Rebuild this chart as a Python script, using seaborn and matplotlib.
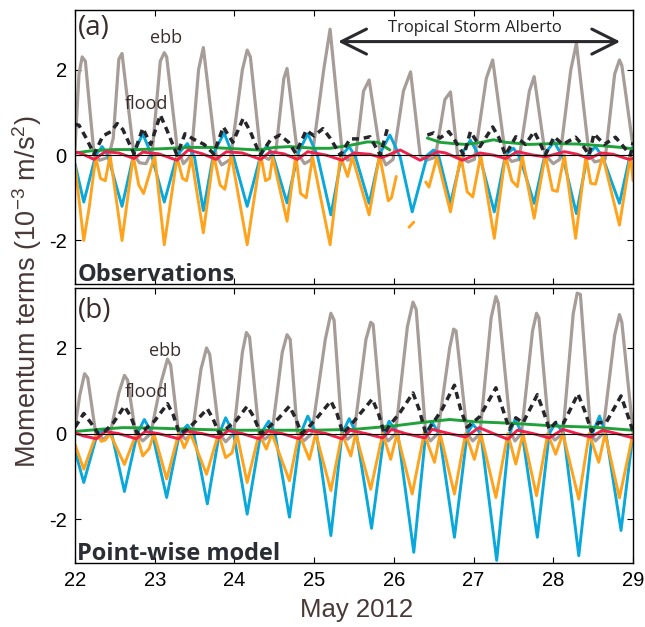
import numpy as np
import pandas as pd
import matplotlib
matplotlib.use("Agg")
import matplotlib.pyplot as plt
import seaborn as sns

nan = np.nan

# ---------------- Panel (a): Observations ----------------
A_GRAY_T = [22.00, 22.05, 22.09, 22.13, 22.24, 22.31, 22.42, 22.48, 22.55, 22.59, 22.74, 22.81, 22.89, 22.97,
            23.07, 23.12, 23.15, 23.28, 23.36, 23.46, 23.55, 23.61, 23.77, 23.84, 23.95, 24.10, 24.16, 24.20,
            24.33, 24.43, 24.52, 24.62, 24.66, 24.79, 24.88, 24.97, 25.12, 25.20, 25.35, 25.42, 25.52, 25.62,
            25.69, 25.83, 25.90, 25.99, 26.12, 26.21, 26.33, 26.41, 26.52, 26.64, 26.71, 26.80, 26.93, 27.01,
            27.16, 27.24, 27.40, 27.48, 27.57, 27.70, 27.76, 27.90, 28.00, 28.08, 28.22, 28.29, 28.45, 28.52,
            28.65, 28.77, 28.83, 28.86, 29.00]
A_GRAY_V = [0.15, 1.90, 2.30, 2.20, 0.00, -0.12, -0.05, 0.40, 2.25, 2.38, 0.00, -0.18, -0.20, 0.10,
            2.20, 2.40, 2.30, 0.20, -0.20, 0.00, 2.00, 2.52, 0.00, -0.23, -0.10, 2.00, 2.46, 2.30,
            0.00, -0.10, 0.10, 1.80, 2.03, 0.05, -0.20, -0.10, 2.00, 2.95, 0.10, -0.12, -0.05, 1.50,
            1.76, 0.05, -0.23, -0.10, 1.50, 1.95, 0.00, -0.12, -0.05, 1.30, 1.48, 0.00, -0.16, -0.10,
            1.80, 2.23, 0.00, -0.15, -0.10, 1.50, 1.84, 0.00, -0.20, -0.10, 2.00, 2.62, 0.00, -0.16,
            -0.10, 1.90, 2.23, 2.10, 0.20]

A_ORANGE_T = [22.00, 22.11, 22.18, 22.26, 22.32, 22.38, 22.44, 22.59, 22.73, 22.80, 22.86, 22.94, 23.00,
              23.12, 23.28, 23.35, 23.40, 23.46, 23.61, 23.74, 23.82, 23.88, 23.96, 24.16, 24.33, 24.39,
              24.44, 24.48, 24.66, 24.77, 24.83, 24.90, 24.98, 25.20, 25.33, 25.42, 25.48, 25.69, 25.82,
              25.93, 25.97, 26.03, nan, 26.19, 26.25, nan, 26.40, 26.44, 26.54, 26.71, 26.84, 26.92, 26.99,
              27.09, 27.26, 27.40, 27.48, 27.55, 27.61, 27.76, 27.90, 27.99, 28.05, 28.14, 28.28, 28.41,
              28.47, 28.53, 28.62, 28.83, 28.97, 29.00]
A_ORANGE_V = [-0.23, -2.00, -1.20, -0.05, -0.55, -0.60, 0.00, -2.00, -0.02, -0.70, -0.90, -0.40, -0.02,
              -2.10, -0.05, -0.55, -0.60, -0.05, -1.82, 0.00, -0.70, -0.80, 0.00, -2.10, 0.00, -0.60,
              -0.55, -0.05, -1.55, 0.00, -0.90, -1.00, -0.05, -2.10, -0.02, -0.50, -0.05, -1.40, 0.00,
              -1.07, -1.00, -0.50, nan, -1.69, -1.57, nan, -0.63, -0.75, -0.05, -1.33, -0.02, -0.86, -0.98,
              0.00, -1.95, 0.00, -0.60, -0.74, -0.02, -1.48, 0.00, -0.82, -0.85, 0.00, -1.95, -0.02,
              -0.66, -0.68, -0.02, -1.64, 0.00, -0.60]

A_BLUE_T = [22.00, 22.11, 22.26, 22.34, 22.41, 22.59, 22.74, 22.85, 22.96, 23.12, 23.28, 23.41, 23.50,
            23.61, 23.74, 23.87, 23.99, 24.16, 24.33, 24.41, 24.49, 24.66, 24.80, 24.92, 25.04, 25.21,
            25.35, 25.44, 25.52, 25.69, 25.83, 25.95, 26.08, 26.23, 26.42, 26.50, 26.56, 26.71, 26.86,
            26.96, 27.08, 27.26, 27.40, 27.50, 27.58, 27.76, 27.90, 28.01, 28.12, 28.29, 28.43, 28.53,
            28.62, 28.83, 28.97, 29.00]
A_BLUE_V = [-0.20, -1.10, 0.00, 0.20, 0.00, -1.20, 0.05, 0.50, 0.00, -1.10, 0.00, 0.27, -0.05,
            -1.30, 0.05, 0.52, -0.05, -1.20, 0.00, 0.23, -0.05, -1.12, 0.05, 0.50, 0.00, -1.40,
            0.00, 0.20, -0.05, -1.13, 0.05, 0.47, -0.05, -1.33, 0.00, 0.12, 0.00, -1.13, 0.05,
            0.35, -0.05, -1.33, 0.00, 0.16, -0.05, -1.13, 0.05, 0.31, -0.05, -1.37, 0.00, 0.20,
            -0.05, -1.13, 0.05, 0.19]

A_DASH_T = [22.00, 22.05, 22.14, 22.24, 22.35, 22.45, 22.53, 22.60, 22.74, 22.85, 22.95, 23.07, 23.15,
            23.28, 23.38, 23.48, 23.62, 23.74, 23.86, 23.98, 24.11, 24.20, 24.32, 24.45, 24.57, 24.68,
            24.77, 24.90, 25.00, 25.11, 25.20, 25.33, 25.45, 25.58, 25.70, 25.83, 25.93, nan,
            26.42, 26.50, 26.58, 26.69, 26.78, 26.88, 26.96, 27.08, 27.24, 27.32, 27.40, 27.53, 27.65,
            27.76, 27.83, 27.90, 28.01, 28.12, 28.28, 28.36, 28.45, 28.51, 28.64, 28.78, 28.88, 28.97,
            29.00]
A_DASH_V = [0.72, 0.70, 0.40, 0.02, 0.45, 0.55, 0.74, 0.60, 0.03, 0.63, 0.25, 0.94, 0.60,
            0.00, 0.50, 0.38, 0.25, 0.03, 0.66, 0.30, 0.86, 0.55, 0.00, 0.35, 0.47, 0.30,
            0.04, 0.58, 0.45, 0.62, 0.40, 0.00, 0.38, 0.38, 0.43, 0.00, 0.70, nan,
            0.47, 0.52, 0.40, 0.55, 0.30, 0.00, 0.55, 0.20, 0.66, 0.40, 0.00, 0.43, 0.25,
            0.55, 0.30, 0.00, 0.43, 0.25, 0.42, 0.25, 0.00, 0.50, 0.25, 0.42, 0.20, 0.00,
            0.30]

A_GREEN_T = [22.00, 22.20, 22.50, 22.80, 23.10, 23.40, 23.70, 24.00, 24.30, 24.50, 24.70, 25.00, 25.20,
             25.45, 25.67, 25.80, 25.95, nan, 26.42, 26.58, 26.75, 26.90, 27.10, 27.25, 27.40, 27.70,
             28.00, 28.30, 28.60, 28.85, 29.00]
A_GREEN_V = [0.05, 0.10, 0.13, 0.13, 0.15, 0.18, 0.18, 0.15, 0.12, 0.18, 0.20, 0.16, 0.16,
             0.23, 0.31, 0.30, 0.12, nan, 0.40, 0.30, 0.27, 0.25, 0.30, 0.36, 0.30, 0.25,
             0.27, 0.26, 0.22, 0.18, 0.15]

A_RED_T = [22.00, 22.10, 22.24, 22.38, 22.55, 22.74, 22.85, 23.05, 23.28, 23.42, 23.60, 23.77, 23.90,
           24.10, 24.33, 24.45, 24.62, 24.79, 24.92, 25.15, 25.35, 25.50, 25.70, 25.85, 26.08, 26.33,
           26.55, 26.65, 26.86, 27.08, 27.25, 27.40, 27.55, 27.75, 27.90, 28.14, 28.30, 28.45, 28.60,
           28.75, 28.95, 29.00]
A_RED_V = [0.08, 0.02, -0.10, 0.08, 0.05, -0.08, 0.07, 0.03, -0.12, 0.12, 0.03, -0.10, 0.08,
           0.05, -0.10, 0.08, 0.03, -0.10, 0.08, 0.00, -0.12, 0.05, 0.02, -0.06, 0.12, -0.12,
           0.08, 0.05, -0.12, 0.05, 0.00, -0.08, 0.08, 0.00, -0.04, 0.08, 0.02, -0.08, 0.05,
           0.02, -0.10, -0.08]

# ---------------- Panel (b): Point-wise model ----------------
B_GRAY_T = [22.00, 22.06, 22.12, 22.16, 22.26, 22.36, 22.44, 22.55, 22.62, 22.66, 22.76, 22.85, 22.95,
            23.08, 23.16, 23.20, 23.30, 23.39, 23.47, 23.58, 23.65, 23.69, 23.81, 23.89, 23.99, 24.10,
            24.15, 24.19, 24.31, 24.38, 24.47, 24.60, 24.66, 24.70, 24.79, 24.87, 24.97, 25.14, 25.21,
            25.25, 25.35, 25.42, 25.50, 25.65, 25.71, 25.74, 25.86, 25.93, 26.02, 26.17, 26.24, 26.28,
            26.40, 26.46, 26.55, 26.70, 26.75, 26.78, 26.92, 26.99, 27.08, 27.22, 27.28, 27.31, 27.47,
            27.52, 27.60, 27.74, 27.79, 27.82, 27.95, 28.02, 28.12, 28.25, 28.30, 28.34, 28.47, 28.53,
            28.62, 28.77, 28.83, 28.86, 29.00]
B_GRAY_V = [0.14, 0.90, 1.40, 1.30, 0.00, -0.13, 0.00, 0.95, 1.36, 1.25, 0.00, -0.17, 0.00,
            1.20, 1.74, 1.60, 0.00, -0.13, 0.00, 1.50, 2.00, 1.85, 0.00, -0.19, 0.00, 1.90,
            2.36, 2.25, 0.00, -0.13, 0.00, 1.90, 2.31, 2.20, 0.00, -0.17, 0.00, 2.20, 2.81,
            2.65, 0.00, -0.13, 0.00, 2.20, 2.60, 2.55, 0.00, -0.17, 0.00, 2.50, 3.07, 2.90,
            0.00, -0.17, 0.00, 2.00, 2.44, 2.40, 0.00, -0.17, 0.00, 2.70, 3.20, 3.05, 0.00,
            -0.17, 0.00, 2.40, 2.81, 2.70, 0.00, -0.15, 0.00, 2.80, 3.28, 3.25, 0.00, -0.17,
            0.00, 2.30, 2.78, 2.60, 0.05]

B_BLUE_T = [22.00, 22.11, 22.28, 22.38, 22.46, 22.62, 22.78, 22.87, 22.97, 23.15, 23.31, 23.41, 23.49,
            23.66, 23.81, 23.89, 23.99, 24.16, 24.33, 24.43, 24.51, 24.69, 24.83, 24.92, 25.03, 25.21,
            25.35, 25.44, 25.53, 25.72, 25.88, 25.94, 26.05, 26.25, 26.40, 26.48, 26.57, 26.76, 26.92,
            26.99, 27.09, 27.29, 27.45, 27.52, 27.61, 27.80, 27.95, 28.03, 28.13, 28.32, 28.49, 28.58,
            28.66, 28.85, 29.00]
B_BLUE_V = [-0.40, -1.14, 0.00, 0.10, 0.00, -1.35, 0.00, 0.33, 0.00, -1.49, 0.00, 0.20, 0.00,
            -1.64, 0.00, 0.37, 0.00, -1.88, 0.00, 0.29, 0.00, -1.95, 0.00, 0.41, 0.00, -2.38,
            0.00, 0.35, 0.00, -2.21, 0.00, 0.29, 0.00, -2.77, 0.00, 0.26, 0.00, -2.42, 0.00,
            0.22, 0.00, -2.96, 0.00, 0.33, 0.00, -2.42, 0.00, 0.26, 0.00, -2.85, 0.00, 0.41,
            0.00, -2.26, 0.00]

B_ORANGE_T = [22.00, 22.11, 22.27, 22.33, 22.38, 22.44, 22.62, 22.77, 22.85, 22.93, 22.99, 23.15, 23.30,
              23.37, 23.45, 23.65, 23.80, 23.89, 23.97, 24.03, 24.16, 24.31, 24.40, 24.47, 24.69, 24.81,
              24.94, 25.02, 25.21, 25.35, 25.46, 25.52, 25.71, 25.86, 25.96, 26.04, 26.23, 26.38, 26.51,
              26.58, 26.76, 26.90, 27.01, 27.09, 27.28, 27.43, 27.53, 27.62, 27.79, 27.93, 28.03, 28.12,
              28.32, 28.45, 28.57, 28.65, 28.83, 29.00]
B_ORANGE_V = [-0.25, -0.83, 0.00, -0.18, -0.15, 0.00, -0.72, 0.00, -0.52, -0.35, 0.00, -1.06, 0.00,
              -0.33, 0.00, -0.95, 0.00, -0.56, -0.45, 0.00, -1.14, 0.00, -0.36, 0.00, -1.10, 0.00,
              -0.60, 0.00, -1.33, 0.00, -0.52, 0.00, -1.30, 0.00, -0.60, 0.00, -1.41, 0.00, -0.67,
              0.00, -1.41, 0.00, -0.60, 0.00, -1.49, 0.00, -0.71, 0.00, -1.45, 0.00, -0.48, 0.00,
              -1.53, 0.00, -0.67, 0.00, -1.50, 0.00]

B_DASH_T = [22.00, 22.11, 22.20, 22.29, 22.38, 22.48, 22.62, 22.70, 22.78, 22.88, 23.00, 23.16, 23.23,
            23.31, 23.41, 23.52, 23.66, 23.73, 23.81, 23.90, 24.02, 24.16, 24.24, 24.33, 24.43, 24.55,
            24.69, 24.77, 24.84, 24.93, 25.05, 25.21, 25.29, 25.36, 25.45, 25.57, 25.73, 25.81, 25.88,
            25.95, 26.08, 26.24, 26.32, 26.40, 26.48, 26.60, 26.76, 26.84, 26.92, 26.99, 27.08, 27.28,
            27.37, 27.45, 27.53, 27.62, 27.80, 27.88, 27.95, 28.03, 28.13, 28.31, 28.40, 28.48, 28.57,
            28.66, 28.85, 28.93, 29.00]
B_DASH_V = [0.15, 0.47, 0.25, 0.00, 0.06, 0.25, 0.64, 0.40, 0.00, 0.10, 0.30, 0.70, 0.45,
            0.00, 0.10, 0.30, 0.58, 0.35, 0.00, 0.12, 0.30, 0.64, 0.40, 0.00, 0.15, 0.35,
            0.64, 0.35, 0.00, 0.15, 0.40, 0.76, 0.45, 0.00, 0.18, 0.45, 0.81, 0.45, 0.00,
            0.20, 0.50, 0.95, 0.55, 0.00, 0.22, 0.55, 1.13, 0.55, 0.15, 0.26, 0.40, 1.07,
            0.55, 0.10, 0.37, 0.25, 0.91, 0.50, 0.10, 0.26, 0.25, 0.93, 0.50, 0.05, 0.26,
            0.25, 0.88, 0.45, 0.05]

B_GREEN_T = [22.00, 22.30, 22.60, 23.00, 23.50, 24.00, 24.50, 25.00, 25.50, 26.00, 26.30, 26.70, 27.00,
             27.50, 28.00, 28.50, 29.00]
B_GREEN_V = [0.05, 0.10, 0.14, 0.13, 0.10, 0.08, 0.08, 0.08, 0.10, 0.18, 0.25, 0.33, 0.28,
             0.24, 0.18, 0.15, 0.08]

B_RED_T = [22.00, 22.10, 22.27, 22.38, 22.55, 22.77, 22.88, 23.05, 23.30, 23.40, 23.60, 23.81, 23.92,
           24.10, 24.31, 24.42, 24.60, 24.81, 24.93, 25.15, 25.35, 25.45, 25.65, 25.86, 25.97, 26.15,
           26.39, 26.48, 26.70, 26.90, 27.07, 27.25, 27.43, 27.55, 27.75, 27.95, 28.12, 28.30, 28.47,
           28.62, 28.80, 29.00]
B_RED_V = [0.02, -0.05, -0.12, 0.05, 0.00, -0.12, 0.05, 0.00, -0.12, 0.06, 0.00, -0.10, 0.07,
           0.00, -0.12, 0.06, 0.00, -0.12, 0.08, 0.00, -0.12, 0.08, 0.00, -0.10, 0.10, 0.00,
           -0.10, 0.10, 0.00, -0.08, 0.14, 0.00, -0.13, 0.08, 0.00, -0.10, 0.10, 0.00, -0.08,
           0.08, 0.00, -0.10]

X_TICKS = [22, 23, 24, 25, 26, 27, 28, 29]
Y_TICKS = [-2, 0, 2]

# ---------------- styling ----------------
C_GRAY = "#a69c98"
C_BLUE = "#08a8dc"
C_ORANGE = "#ffa21c"
C_GREEN = "#1fa23a"
C_RED = "#f0214c"
C_DASH = "#26262a"
C_TEXT = "#3a2c2c"

sns.set_style("ticks")
plt.rcParams["font.family"] = ["Liberation Sans", "DejaVu Sans"]
plt.rcParams["mathtext.fontset"] = "custom"
plt.rcParams["mathtext.rm"] = "Liberation Sans"


def frame(t, v):
    t = np.asarray(t, float)
    v = np.asarray(v, float)
    seg = np.cumsum(np.isnan(v))
    df = pd.DataFrame({"t": t, "v": v, "seg": seg})
    return df.dropna()


fig = plt.figure(figsize=(6.45, 6.27), dpi=100)
W, H = 645.0, 627.0
ax_a = fig.add_axes([75 / W, 1 - 284 / H, 558 / W, 274 / H])
ax_b = fig.add_axes([75 / W, 1 - 563 / H, 558 / W, 275 / H])

DASH = (0, (2.0, 1.4))
panels = {
    ax_a: [(A_GRAY_T, A_GRAY_V, C_GRAY, 2.3, "-"),
           (A_BLUE_T, A_BLUE_V, C_BLUE, 2.1, "-"),
           (A_ORANGE_T, A_ORANGE_V, C_ORANGE, 2.1, "-"),
           (A_GREEN_T, A_GREEN_V, C_GREEN, 2.1, "-"),
           (A_RED_T, A_RED_V, C_RED, 2.1, "-"),
           (A_DASH_T, A_DASH_V, C_DASH, 2.5, DASH)],
    ax_b: [(B_GRAY_T, B_GRAY_V, C_GRAY, 2.3, "-"),
           (B_BLUE_T, B_BLUE_V, C_BLUE, 2.1, "-"),
           (B_ORANGE_T, B_ORANGE_V, C_ORANGE, 2.1, "-"),
           (B_GREEN_T, B_GREEN_V, C_GREEN, 2.1, "-"),
           (B_RED_T, B_RED_V, C_RED, 2.1, "-"),
           (B_DASH_T, B_DASH_V, C_DASH, 2.5, DASH)],
}

for ax, series in panels.items():
    for t, v, c, lw, ls in series:
        df = frame(t, v)
        sns.lineplot(data=df, x="t", y="v", units="seg", estimator=None, sort=False,
                     color=c, lw=lw, linestyle=ls, ax=ax, legend=False)
    ax.axhline(0, color="black", lw=0.8, zorder=5)
    ax.set_xlim(22, 29)
    ax.set_ylim(-3.02, 3.4)
    ax.set_xticks(X_TICKS)
    ax.set_yticks(Y_TICKS)
    ax.set_xlabel("")
    ax.set_ylabel("")
    for s in ax.spines.values():
        s.set_visible(True)
        s.set_linewidth(1.0)
        s.set_color("black")
    ax.tick_params(direction="in", top=True, right=True, length=4, width=0.8,
                   labelsize=14.5, colors="black", pad=6)

ax_a.tick_params(labelbottom=False)
ax_b.set_xticklabels([str(x) for x in X_TICKS])
ax_b.set_yticklabels(["-2", "0", "2"])
ax_a.set_yticklabels(["-2", "0", "2"])

ann_font = ["Open Sans", "DejaVu Sans"]
# panel (a) texts
ax_a.text(22.04, 2.97, "(a)", fontsize=20, color=C_TEXT, family=ann_font, va="center", ha="left")
ax_a.text(23.14, 2.74, "ebb", fontsize=13, color=C_TEXT, family=ann_font, va="center", ha="center")
ax_a.text(22.9, 1.19, "flood", fontsize=13, color=C_TEXT, family=ann_font, va="center", ha="center")
ax_a.text(0.004, 0.012, "Observations", transform=ax_a.transAxes, fontsize=17, fontweight="bold",
          color="#2a2d33", family=ann_font, va="baseline", ha="left")
ax_a.text(27.02, 2.97, "Tropical Storm Alberto", fontsize=12, color="#222222", family=ann_font,
          va="center", ha="center")
ax_a.annotate("", xy=(25.3, 2.66), xytext=(28.84, 2.66),
              arrowprops=dict(arrowstyle="<->,head_length=0.9,head_width=0.45", lw=2.2,
                              color="#2a2a2e", shrinkA=0, shrinkB=0, mutation_scale=20))

# panel (b) texts
ax_b.text(22.04, 2.86, "(b)", fontsize=20, color=C_TEXT, family=ann_font, va="center", ha="left")
ax_b.text(23.13, 1.93, "ebb", fontsize=13, color=C_TEXT, family=ann_font, va="center", ha="center")
ax_b.text(22.89, 0.98, "flood", fontsize=13, color=C_TEXT, family=ann_font, va="center", ha="center")
ax_b.text(0.004, 0.012, "Point-wise model", transform=ax_b.transAxes, fontsize=17, fontweight="bold",
          color="#2a2d33", family=ann_font, va="baseline", ha="left")

fig.text(0.042, 0.535, r"Momentum terms (10$^{-3}$ m/s$^{2}$)", rotation=90, fontsize=19.5,
         color="#4a3838", ha="center", va="center")
fig.text(357 / W, 1 - 610 / H, "May 2012", fontsize=18.5, color="#4a3838", ha="center", va="center")

fig.savefig("out.png", dpi=100)
